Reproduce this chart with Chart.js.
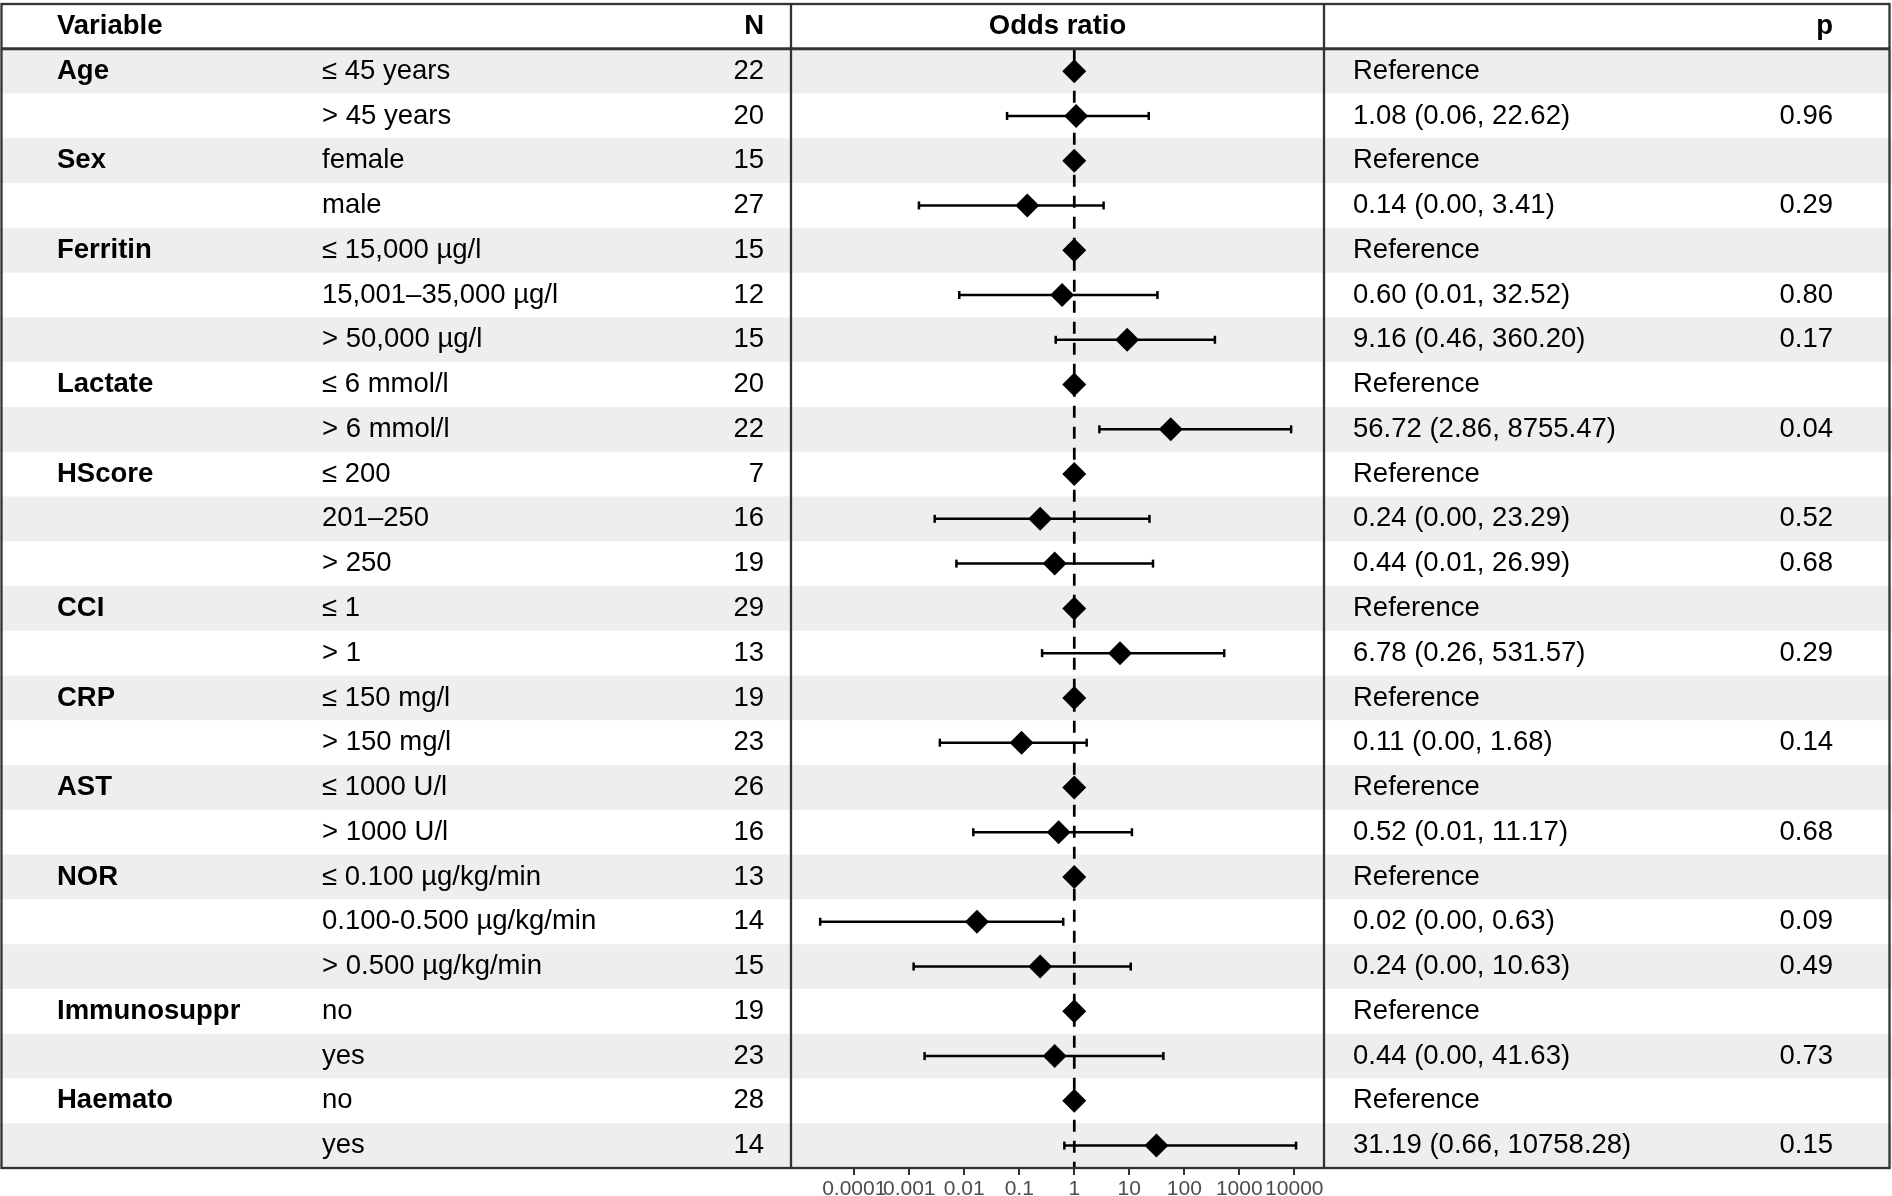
<!DOCTYPE html>
<html>
<head>
<meta charset="utf-8">
<script src="https://cdn.jsdelivr.net/npm/chart.js@4"></script>
<style>
  html, body { margin: 0; padding: 0; background: #ffffff; }
  #wrap { position: relative; width: 1892px; height: 1196px; }
</style>
</head>
<body>
<div id="wrap"><canvas id="c"></canvas></div>
<script>
// ---------- data ----------
const headerVariable = 'Variable';
const headerN = 'N';
const headerPlot = 'Odds ratio';
const headerP = 'p';

const variables = ['Age', '', 'Sex', '', 'Ferritin', '', '', 'Lactate', '', 'HScore', '', '', 'CCI', '', 'CRP', '', 'AST', '', 'NOR', '', '', 'Immunosuppr', '', 'Haemato', ''];
const levels = ['≤ 45 years', '> 45 years', 'female', 'male', '≤ 15,000 µg/l', '15,001–35,000 µg/l', '> 50,000 µg/l', '≤ 6 mmol/l', '> 6 mmol/l', '≤ 200', '201–250', '> 250', '≤ 1', '> 1', '≤ 150 mg/l', '> 150 mg/l', '≤ 1000 U/l', '> 1000 U/l', '≤ 0.100 µg/kg/min', '0.100-0.500 µg/kg/min', '> 0.500 µg/kg/min', 'no', 'yes', 'no', 'yes'];
const nValues = [22, 20, 15, 27, 15, 12, 15, 20, 22, 7, 16, 19, 29, 13, 19, 23, 26, 16, 13, 14, 15, 19, 23, 28, 14];
const oddsRatios = [1, 1.08, 1, 0.14, 1, 0.60, 9.16, 1, 56.72, 1, 0.24, 0.44, 1, 6.78, 1, 0.11, 1, 0.52, 1, 0.017, 0.24, 1, 0.44, 1, 31.19];
const ciLower = [null, 0.06, null, 0.0015, null, 0.0081, 0.46, null, 2.86, null, 0.0029, 0.0072, null, 0.26, null, 0.0036, null, 0.0146, null, 0.000024, 0.0012, null, 0.0019, null, 0.66];
const ciUpper = [null, 22.62, null, 3.41, null, 32.52, 360.20, null, 8755.47, null, 23.29, 26.99, null, 531.57, null, 1.68, null, 11.17, null, 0.63, 10.63, null, 41.63, null, 10758.28];
const estimateLabels = ['Reference', '1.08 (0.06, 22.62)', 'Reference', '0.14 (0.00, 3.41)', 'Reference', '0.60 (0.01, 32.52)', '9.16 (0.46, 360.20)', 'Reference', '56.72 (2.86, 8755.47)', 'Reference', '0.24 (0.00, 23.29)', '0.44 (0.01, 26.99)', 'Reference', '6.78 (0.26, 531.57)', 'Reference', '0.11 (0.00, 1.68)', 'Reference', '0.52 (0.01, 11.17)', 'Reference', '0.02 (0.00, 0.63)', '0.24 (0.00, 10.63)', 'Reference', '0.44 (0.00, 41.63)', 'Reference', '31.19 (0.66, 10758.28)'];
const pValues = ['', '0.96', '', '0.29', '', '0.80', '0.17', '', '0.04', '', '0.52', '0.68', '', '0.29', '', '0.14', '', '0.68', '', '0.09', '0.49', '', '0.73', '', '0.15'];
const xTickValues = [0.0001, 0.001, 0.01, 0.1, 1, 10, 100, 1000, 10000];
const xTickLabels = ['0.0001', '0.001', '0.01', '0.1', '1', '10', '100', '1000', '10000'];

// ---------- styling ----------
const FONT = '"Liberation Sans", Arial, Helvetica, sans-serif';
const FS = 27.5;
const nRows = levels.length;          // 25 data rows

const colVar = [headerVariable].concat(variables);
const colLevel = [''].concat(levels);
const colN = [headerN].concat(nValues.map(String));
const colEst = [''].concat(estimateLabels);
const colP = [headerP].concat(pValues);

function textAxis(labels, position, crossAlign, width, pad, boldFn) {
  return {
    type: 'category',
    labels: labels,
    position: position,
    offset: true,
    grid: { display: false, drawTicks: false, tickLength: 0 },
    border: { display: false },
    ticks: {
      autoSkip: false,
      crossAlign: crossAlign,
      padding: pad,
      color: '#000000',
      font: (ctx) => ({ family: FONT, size: FS, weight: boldFn(ctx.index) ? 'bold' : 'normal' })
    },
    afterFit: (scale) => {
      scale.width = width;
      scale.paddingTop = 0;
      scale.paddingBottom = 0;
    }
  };
}

// ---------- datasets ----------
const pointData = oddsRatios.map((v, i) => ({ x: v, y: i + 1 }));
const datasets = [];
datasets.push({
  label: 'Odds ratio',
  data: pointData,
  pointStyle: 'rectRot',
  pointRadius: 12,
  pointHoverRadius: 12,
  pointBackgroundColor: '#000000',
  pointBorderColor: '#000000',
  pointBorderWidth: 0,
  showLine: false
});
ciLower.forEach((lo, i) => {
  if (lo === null) return;
  datasets.push({
    label: 'CI ' + levels[i],
    data: [{ x: lo, y: i + 1 }, { x: ciUpper[i], y: i + 1 }],
    showLine: true,
    borderColor: '#000000',
    borderWidth: 2.5,
    pointStyle: 'line',
    pointRotation: 90,
    pointRadius: 4,
    pointHoverRadius: 4,
    pointBorderColor: '#000000',
    pointBorderWidth: 2.5
  });
});
datasets.push({
  label: 'OR = 1',
  data: [{ x: 1, y: 0.5 }, { x: 1, y: nRows + 0.5 }],
  showLine: true,
  borderColor: '#000000',
  borderWidth: 2.7,
  borderDash: [12, 9],
  pointRadius: 0,
  pointHoverRadius: 0
});

// ---------- table decoration plugin ----------
const tablePlugin = {
  id: 'tableDecor',
  beforeDraw(chart) {
    const ctx = chart.ctx;
    const y = chart.scales.y;
    ctx.save();
    ctx.fillStyle = '#ffffff';
    ctx.fillRect(0, 0, chart.width, chart.height);
    ctx.fillStyle = '#eeeeee';
    for (let i = 1; i <= nRows; i += 2) {
      const top = y.getPixelForValue(i - 0.5);
      const bot = y.getPixelForValue(i + 0.5);
      ctx.fillRect(0, top, chart.width, bot - top);
    }
    ctx.restore();
  },
  afterDraw(chart) {
    const ctx = chart.ctx;
    const a = chart.chartArea;
    const y = chart.scales.y;
    const hdrBottom = y.getPixelForValue(0.5);
    ctx.save();
    ctx.strokeStyle = '#333333';
    ctx.lineWidth = 2.3;
    ctx.strokeRect(1.5, a.top, chart.width - 4, a.bottom - a.top);
    ctx.beginPath();
    ctx.moveTo(a.left, a.top); ctx.lineTo(a.left, a.bottom);
    ctx.moveTo(a.right, a.top); ctx.lineTo(a.right, a.bottom);
    ctx.stroke();
    ctx.lineWidth = 2.8;
    ctx.beginPath();
    ctx.moveTo(1.5, hdrBottom); ctx.lineTo(chart.width - 2.5, hdrBottom);
    ctx.stroke();
    // header of the plot panel
    ctx.fillStyle = '#000000';
    ctx.font = 'bold ' + FS + 'px ' + FONT;
    ctx.textAlign = 'center';
    ctx.textBaseline = 'middle';
    ctx.fillText(headerPlot, (a.left + a.right) / 2, y.getPixelForValue(0));
    ctx.restore();
  }
};

new Chart(document.getElementById('c'), {
  type: 'scatter',
  data: { datasets: datasets },
  plugins: [tablePlugin],
  options: {
    responsive: true,
    maintainAspectRatio: false,
    animation: false,
    events: [],
    layout: { autoPadding: false, padding: { left: 57, right: 59, top: 4, bottom: 0 } },
    plugins: { legend: { display: false }, tooltip: { enabled: false }, title: { display: false } },
    scales: {
      x: {
        type: 'logarithmic',
        position: 'bottom',
        min: Math.pow(10, -5.15),
        max: Math.pow(10, 4.54),
        afterBuildTicks: (s) => { s.ticks = xTickValues.map(v => ({ value: v })); },
        grid: { display: true, drawOnChartArea: false, drawTicks: true, tickLength: 7, color: '#333333', lineWidth: 2 },
        border: { display: false },
        ticks: {
          autoSkip: false,
          maxRotation: 0,
          minRotation: 0,
          padding: 2,
          color: '#4d4d4d',
          font: { family: FONT, size: 21 },
          callback: (v, i) => xTickLabels[i]
        },
        afterFit: (s) => { s.height = 28; }
      },
      y: {
        type: 'linear',
        display: false,
        reverse: true,
        min: -0.5,
        max: nRows + 0.5
      },
      yN: textAxis(colN, 'left', 'near', 100, 27, (i) => i === 0),
      yLevel: textAxis(colLevel, 'left', 'far', 369, 0, () => false),
      yVar: textAxis(colVar, 'left', 'far', 265, 0, () => true),
      yEst: textAxis(colEst, 'right', 'near', 400, 29, () => false),
      yP: textAxis(colP, 'right', 'far', 109, 0, (i) => i === 0)
    }
  }
});
</script>
</body>
</html>
